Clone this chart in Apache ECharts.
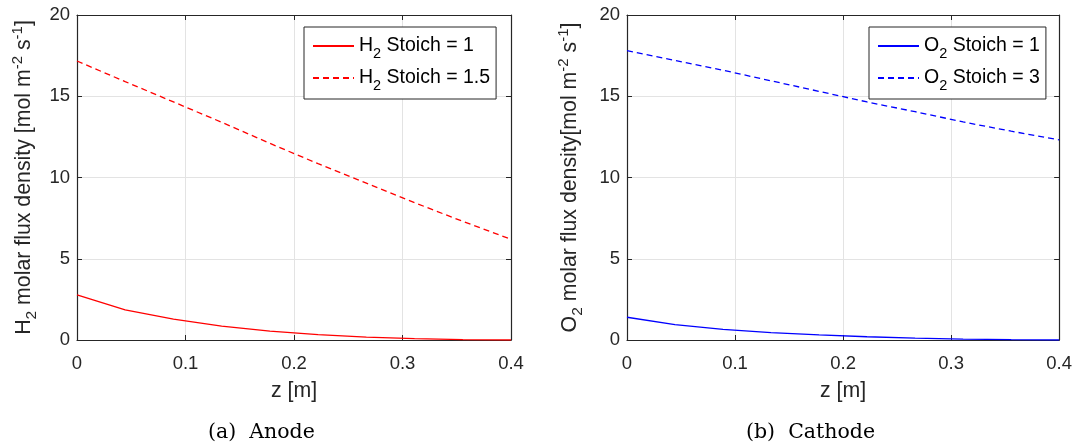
<!DOCTYPE html>
<html>
<head>
<meta charset="utf-8">
<script src="https://cdn.jsdelivr.net/npm/echarts@6/dist/echarts.min.js"></script>
<style>
html,body{margin:0;padding:0;background:#fff;}
#chart{width:1075px;height:447px;}
</style>
</head>
<body>
<div id="chart"></div>
<script>
// ---- data ----
const zNodes = [0, 0.0444, 0.0889, 0.1333, 0.1778, 0.2222, 0.2667, 0.3111, 0.3556, 0.4];
const h2Stoich1 = [2.78, 1.85, 1.28, 0.85, 0.55, 0.33, 0.18, 0.08, 0.02, 0.0];
const h2Stoich15 = [17.17, 15.9, 14.65, 13.4, 12.1, 10.85, 9.65, 8.45, 7.3, 6.2];
const o2Stoich1 = [1.40, 0.95, 0.66, 0.46, 0.31, 0.20, 0.12, 0.06, 0.02, 0.0];
const o2Stoich3 = [17.81, 17.2, 16.6, 15.95, 15.3, 14.65, 14.05, 13.42, 12.85, 12.32];
const xTickLabels = ['0', '0.1', '0.2', '0.3', '0.4'];
const yTickLabels = ['0', '5', '10', '15', '20'];
const seriesNames = ['H2 Stoich = 1', 'H2 Stoich = 1.5', 'O2 Stoich = 1', 'O2 Stoich = 3'];
const captions = ['(a)  Anode', '(b)  Cathode'];

// ---- styling ----
const FONT = 'Liberation Sans, Arial, Helvetica, sans-serif';
const AX = '#262626';
const GRIDC = '#e3e3e3';
const tickFont = 18.5;
const labFont = 21.3;

function pair(arrX, arrY) { return arrX.map((x, i) => [x, arrY[i]]); }

const richLegend = {
  n: { fontFamily: FONT, fontSize: 19.5, color: '#000' },
  sub: { fontFamily: FONT, fontSize: 14.5, color: '#000', padding: [15, 0, 0, 0] }
};
const richAxis = {
  n: { fontFamily: FONT, fontSize: labFont, color: AX },
  sub: { fontFamily: FONT, fontSize: 15.5, color: AX, padding: [16, 0, 0, 0] },
  sup: { fontFamily: FONT, fontSize: 15, color: AX, padding: [0, 0, 13, 0] }
};

function legendFmt(name) {
  const el = name.slice(0, 1);
  const rest = name.slice(2);
  return '{n|' + el + '}{sub|2}{n|' + rest + '}';
}

const grids = [
  { left: 77, right: 564, top: 15, bottom: 107 },
  { left: 627, right: 15, top: 15, bottom: 107 }
];

function makeX(gi, pos) {
  const main = pos === 'bottom';
  return {
    type: 'value', gridIndex: gi, position: pos, min: 0, max: 0.4, interval: 0.1,
    axisLine: { show: true, onZero: false, lineStyle: { color: AX, width: 1.2 } },
    axisTick: { show: true, inside: true, length: 5, lineStyle: { color: AX } },
    axisLabel: {
      show: main, margin: 14, color: AX, fontFamily: FONT, fontSize: tickFont,
      formatter: (v) => xTickLabels[Math.round(v / 0.1)]
    },
    splitLine: { show: main, lineStyle: { color: GRIDC, width: 1 } },
    name: main ? 'z [m]' : '', nameLocation: 'middle', nameGap: 41,
    nameTextStyle: { fontFamily: FONT, fontSize: labFont, color: AX }
  };
}
function makeY(gi, pos, nameStr, gap) {
  const main = pos === 'left';
  return {
    type: 'value', gridIndex: gi, position: pos, min: 0, max: 20, interval: 5,
    axisLine: { show: true, onZero: false, lineStyle: { color: AX, width: 1.2 } },
    axisTick: { show: true, inside: true, length: 5, lineStyle: { color: AX } },
    axisLabel: {
      show: main, margin: 7, color: AX, fontFamily: FONT, fontSize: tickFont,
      formatter: (v) => yTickLabels[Math.round(v / 5)]
    },
    splitLine: { show: main, lineStyle: { color: GRIDC, width: 1 } },
    name: main ? nameStr : '', nameLocation: 'middle', nameGap: gap || 32, nameRotate: 90,
    nameTextStyle: { rich: richAxis }
  };
}

const yNameA = '{n|H}{sub|2}{n| molar flux density [mol m}{sup|-2}{n| s}{sup|-1}{n|]}';
const yNameC = '{n|O}{sub|2}{n| molar flux density[mol m}{sup|-2}{n| s}{sup|-1}{n|]}';

function legendCfg(names, left) {
  return {
    data: names, orient: 'vertical', left: left, top: 27,
    backgroundColor: '#fff', borderColor: AX, borderWidth: 1,
    padding: [9, 6, 6, 8], itemWidth: 41, itemHeight: 14, itemGap: 7,
    itemStyle: { opacity: 0 },
    formatter: legendFmt,
    textStyle: { rich: richLegend, fontFamily: FONT, fontSize: 19.5 },
    selectedMode: false
  };
}

function line(name, xi, yi, data, color, dashed) {
  return {
    name: name, type: 'line', xAxisIndex: xi, yAxisIndex: yi, data: data,
    showSymbol: false, symbol: 'none', smooth: false, animation: false, z: 3,
    lineStyle: { color: color, width: 1.3, type: dashed ? [6, 4] : 'solid' },
    itemStyle: { color: color }
  };
}

const capFont = '20.5px "DejaVu Serif", "Liberation Serif", serif';

const option = {
  animation: false,
  backgroundColor: '#fff',
  grid: grids,
  xAxis: [makeX(0, 'bottom'), makeX(1, 'bottom'), makeX(0, 'top'), makeX(1, 'top')],
  yAxis: [makeY(0, 'left', yNameA, 37), makeY(1, 'left', yNameC, 41), makeY(0, 'right'), makeY(1, 'right')],
  legend: [legendCfg([seriesNames[0], seriesNames[1]], 304), legendCfg([seriesNames[2], seriesNames[3]], 869)],
  series: [
    line(seriesNames[0], 0, 0, pair(zNodes, h2Stoich1), '#ff0000', false),
    line(seriesNames[1], 0, 0, pair(zNodes, h2Stoich15), '#ff0000', true),
    line(seriesNames[2], 1, 1, pair(zNodes, o2Stoich1), '#0000ff', false),
    line(seriesNames[3], 1, 1, pair(zNodes, o2Stoich3), '#0000ff', true)
  ],
  graphic: [
    { type: 'text', left: 208, top: 422, style: { text: captions[0], font: capFont, fill: '#000' } },
    { type: 'text', left: 746, top: 422, style: { text: captions[1], font: capFont, fill: '#000' } }
  ]
};

const chart = echarts.init(document.getElementById('chart'), null, { renderer: 'canvas' });
chart.setOption(option);
</script>
</body>
</html>
